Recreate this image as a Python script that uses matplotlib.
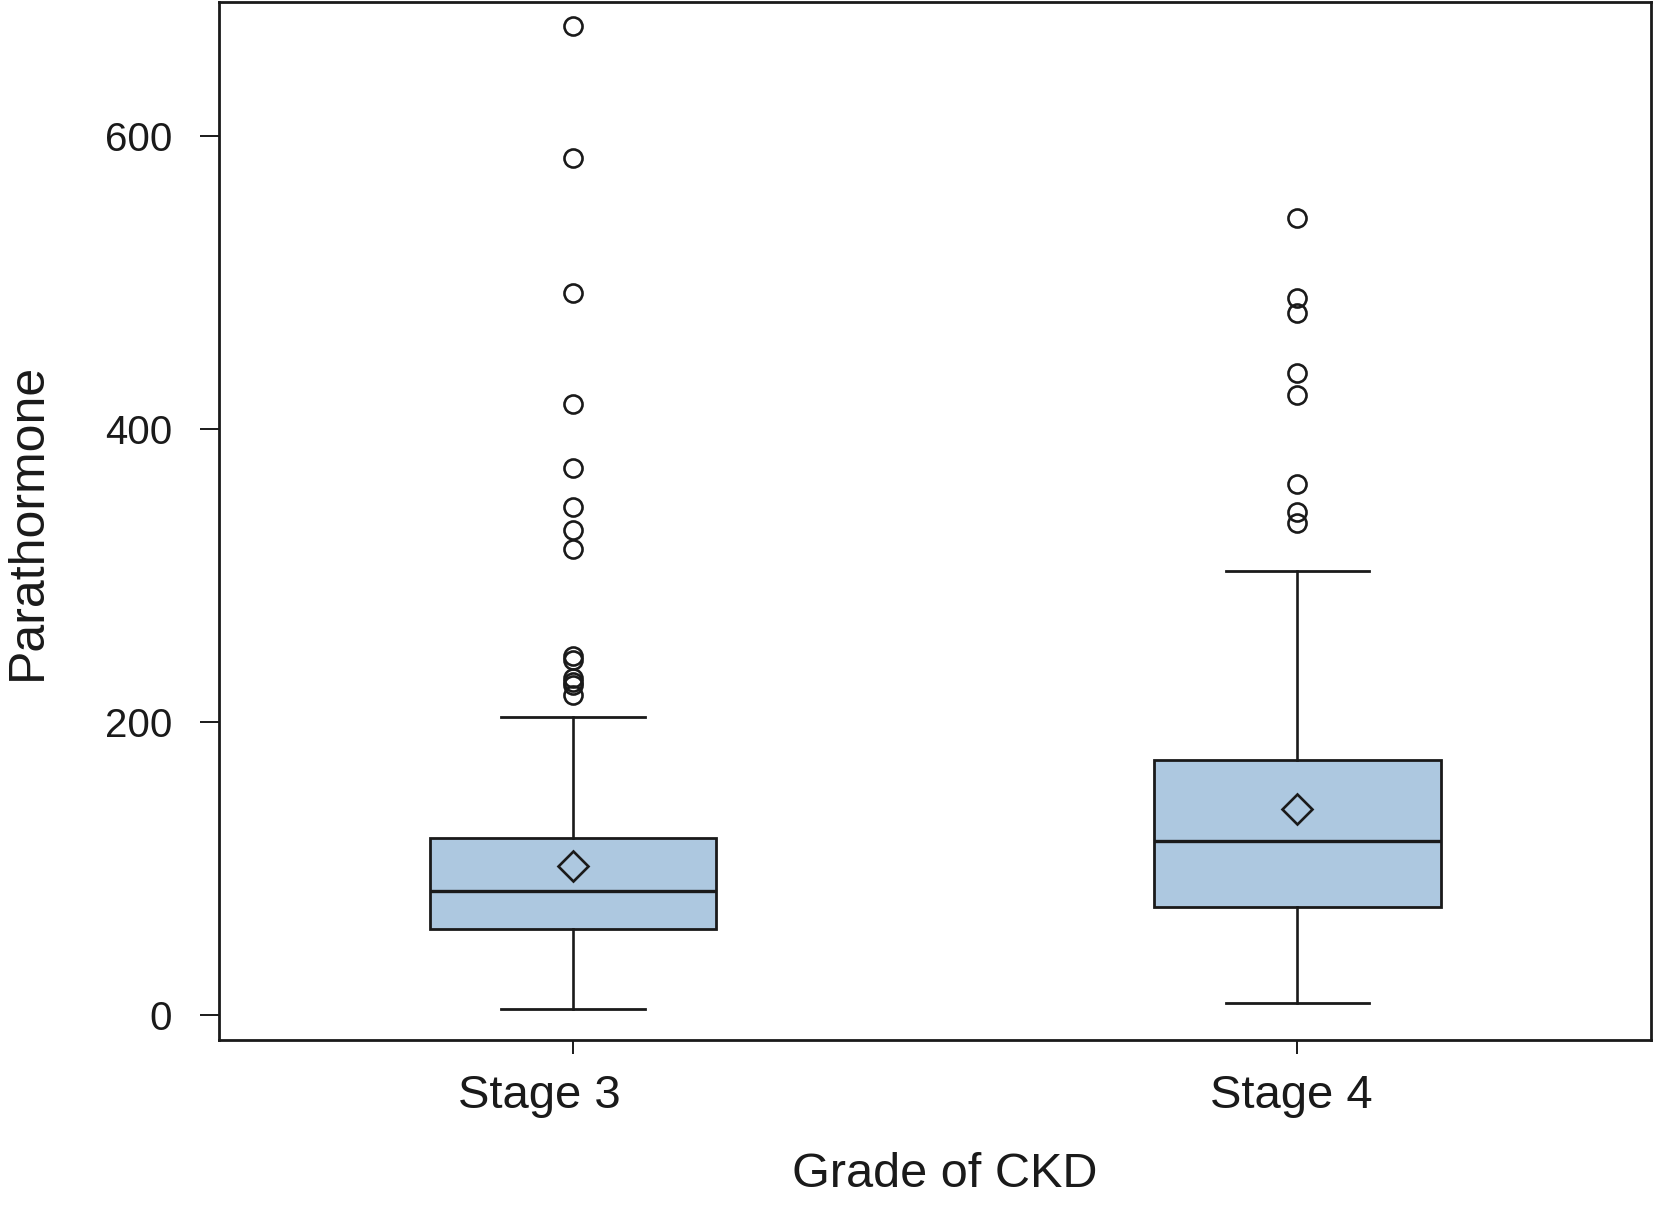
import matplotlib
matplotlib.use("Agg")
import matplotlib.pyplot as plt
import matplotlib.transforms as mtransforms

# values
stages = ["Stage 3", "Stage 4"]
whisker_low = [4.3, 7.9]
q1 = [58.4, 73.5]
median = [84.5, 119.0]
q3 = [121.0, 173.7]
whisker_high = [203.0, 302.7]
means = [101.6, 140.5]
outliers_stage3 = [674.6, 584.5, 493.0, 417.0, 373.0, 346.7, 331.0, 318.0,
                   245.0, 242.5, 230.0, 227.5, 225.0, 218.0]
outliers_stage4 = [544.0, 489.0, 479.0, 438.0, 423.0, 362.0, 343.0, 336.0]
outliers = [outliers_stage3, outliers_stage4]

plt.rcParams["font.family"] = ["Liberation Sans", "DejaVu Sans"]

fig = plt.figure(figsize=(16.54, 12.11), dpi=100)
ax = fig.add_axes([0.1327, 0.141, 0.998 - 0.1327, 0.998 - 0.141])

stats = []
for i, name in enumerate(stages):
    stats.append({
        "label": name,
        "whislo": whisker_low[i],
        "q1": q1[i],
        "med": median[i],
        "q3": q3[i],
        "whishi": whisker_high[i],
        "mean": means[i],
        "fliers": outliers[i],
    })

ax.bxp(
    stats,
    positions=[1, 2],
    widths=0.396,
    patch_artist=True,
    showmeans=True,
    boxprops=dict(facecolor="#adc8e0", edgecolor="#1a1a1a", linewidth=2.0),
    medianprops=dict(color="#1a1a1a", linewidth=2.4),
    whiskerprops=dict(color="#1a1a1a", linewidth=1.9),
    capprops=dict(color="#1a1a1a", linewidth=2.0),
    capwidths=0.198,
    flierprops=dict(marker="o", markersize=13, markerfacecolor="none",
                    markeredgecolor="#1a1a1a", markeredgewidth=1.9),
    meanprops=dict(marker="D", markersize=15, markerfacecolor="none",
                   markeredgecolor="#1a1a1a", markeredgewidth=1.9),
)

ax.set_xlim(0.512, 2.488)
ax.set_ylim(-17.3, 691)
ax.set_yticks([0, 200, 400, 600])
ax.set_xticks([1, 2])
ax.set_xticklabels(stages)

for spine in ax.spines.values():
    spine.set_linewidth(2.0)
    spine.set_color("#1a1a1a")

ax.tick_params(axis="y", length=14, width=1.4, pad=20, labelsize=29, colors="#1a1a1a")
ax.tick_params(axis="x", length=10, width=1.4, pad=14, labelsize=34, colors="#1a1a1a")

# the category labels sit slightly left of their ticks in the original
for lbl, dx in zip(ax.get_xticklabels(), [-34, -6]):
    lbl.set_transform(lbl.get_transform()
                      + mtransforms.ScaledTranslation(dx / 100, 0, fig.dpi_scale_trans))

ax.set_xlabel("Grade of CKD", fontsize=35, color="#1a1a1a")
ax.set_ylabel("Parathormone", fontsize=36, color="#1a1a1a")
ax.xaxis.set_label_coords(0.507, -0.108)
ax.yaxis.set_label_coords(-0.118, 0.5)

fig.savefig("out.png", dpi=100, facecolor="white")
